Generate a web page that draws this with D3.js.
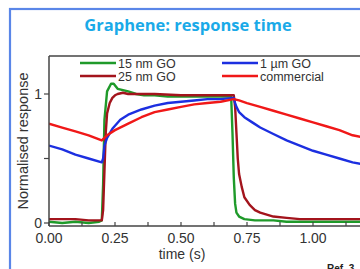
<html>
  <head>
    <style>
      body { margin: 0; background: #fff; }
      svg { display: block; font-family: Arial, "Liberation Sans", sans-serif; }
    </style>
  </head>
  <body>
    <svg></svg>
    <script src="https://d3js.org/d3.v7.min.js"></script>
    <script>
      let width = 360,
        height = 269;

      // data
      let xTicks = [0, 0.25, 0.5, 0.75, 1.0];
      let xMinor = [0.125, 0.375, 0.625, 0.875, 1.125];
      let yTicks = [0, 1];
      let yMinor = [0.5];

      let green_t = [0, 0.05, 0.1, 0.15, 0.19, 0.2, 0.205, 0.21, 0.22, 0.235, 0.245, 0.26, 0.28, 0.3, 0.33, 0.36, 0.4, 0.45, 0.5, 0.55, 0.6, 0.65, 0.69, 0.695, 0.7, 0.705, 0.71, 0.72, 0.74, 0.78, 0.85, 0.9, 0.95, 1.0, 1.05, 1.1, 1.15, 1.2];
      let green_v = [0.01, 0.0, 0.01, 0.0, 0.01, 0.02, 0.3, 0.8, 1.02, 1.08, 1.08, 1.04, 1.03, 1.02, 1.0, 0.99, 0.99, 0.98, 0.98, 0.98, 0.98, 0.98, 0.98, 0.7, 0.35, 0.15, 0.08, 0.05, 0.03, 0.02, 0.02, 0.01, 0.01, 0.01, 0.01, 0.01, 0.01, 0.01];

      let darkred_t = [0, 0.05, 0.1, 0.15, 0.2, 0.205, 0.21, 0.215, 0.22, 0.23, 0.24, 0.25, 0.26, 0.28, 0.3, 0.35, 0.4, 0.5, 0.6, 0.65, 0.7, 0.705, 0.71, 0.715, 0.72, 0.73, 0.74, 0.76, 0.78, 0.8, 0.85, 0.9, 0.95, 1.0, 1.1, 1.2];
      let darkred_v = [0.03, 0.03, 0.03, 0.02, 0.02, 0.1, 0.4, 0.7, 0.85, 0.93, 0.97, 0.99, 1.0, 1.01, 1.0, 1.0, 1.0, 0.99, 0.99, 0.99, 0.99, 0.9, 0.7, 0.5, 0.38, 0.28, 0.2, 0.14, 0.1, 0.08, 0.05, 0.04, 0.03, 0.03, 0.03, 0.03];

      let blue_t = [0, 0.05, 0.1, 0.15, 0.2, 0.205, 0.21, 0.22, 0.24, 0.27, 0.3, 0.35, 0.4, 0.45, 0.5, 0.55, 0.6, 0.65, 0.7, 0.705, 0.71, 0.72, 0.74, 0.77, 0.8, 0.85, 0.9, 0.95, 1.0, 1.05, 1.1, 1.15, 1.2];
      let blue_v = [0.6, 0.57, 0.53, 0.5, 0.47, 0.5, 0.6, 0.66, 0.73, 0.8, 0.84, 0.88, 0.91, 0.93, 0.94, 0.95, 0.96, 0.96, 0.97, 0.93, 0.9, 0.86, 0.82, 0.78, 0.74, 0.69, 0.64, 0.6, 0.56, 0.53, 0.5, 0.47, 0.45];

      let red_t = [0, 0.05, 0.1, 0.15, 0.2, 0.21, 0.22, 0.25, 0.3, 0.35, 0.4, 0.45, 0.5, 0.55, 0.6, 0.65, 0.7, 0.72, 0.75, 0.8, 0.85, 0.9, 0.95, 1.0, 1.05, 1.1, 1.15, 1.2];
      let red_v = [0.77, 0.74, 0.71, 0.68, 0.64, 0.66, 0.68, 0.72, 0.77, 0.82, 0.86, 0.88, 0.9, 0.92, 0.93, 0.94, 0.96, 0.95, 0.93, 0.9, 0.87, 0.84, 0.81, 0.78, 0.75, 0.72, 0.68, 0.66];

      let series = [
        { name: "15 nm GO", t: green_t, v: green_v, color: "#1f9a2a" },
        { name: "25 nm GO", t: darkred_t, v: darkred_v, color: "#a3141c" },
        { name: "1 \u00b5m GO", t: blue_t, v: blue_v, color: "#1c2fe0" },
        { name: "commercial", t: red_t, v: red_v, color: "#f01818" },
      ];

      let svg = d3.select("svg").attr("width", width).attr("height", height);

      // slide frame
      svg.append("rect")
        .attr("x", 10).attr("y", 9)
        .attr("width", 400).attr("height", 300)
        .attr("fill", "none")
        .attr("stroke", "#5a86e8")
        .attr("stroke-width", 2.2);

      svg.append("text")
        .attr("x", 188).attr("y", 31)
        .attr("text-anchor", "middle")
        .attr("fill", "#1aaae8")
        .attr("font-weight", "bold")
        .attr("font-family", "'Open Sans', Verdana, sans-serif")
        .attr("font-size", 16.5)
        .text("Graphene: response time");

      let x = d3.scaleLinear().domain([0, 1]).range([49, 313]);
      let y = d3.scaleLinear().domain([0, 1]).range([223, 94]);
      let x0 = 49, x1 = 420, yTop = 56, yBot = 226;

      svg.append("clipPath").attr("id", "plotclip")
        .append("rect").attr("x", x0).attr("y", yTop).attr("width", x1 - x0).attr("height", yBot - yTop);

      let line = d3.line().x((d) => x(d[0])).y((d) => y(d[1]));

      let g = svg.append("g").attr("clip-path", "url(#plotclip)");
      series.forEach((s) => {
        g.append("path")
          .datum(s.t.map((t, i) => [t, s.v[i]]))
          .attr("d", line)
          .attr("fill", "none")
          .attr("stroke", s.color)
          .attr("stroke-width", 2.4)
          .attr("stroke-linejoin", "round");
      });

      // frame
      let axColor = "#444";
      svg.append("line").attr("x1", x0).attr("x2", x1).attr("y1", yTop).attr("y2", yTop)
        .attr("stroke", axColor).attr("stroke-width", 1.5);
      svg.append("line").attr("x1", x0).attr("x2", x0).attr("y1", yTop).attr("y2", yBot)
        .attr("stroke", axColor).attr("stroke-width", 1.5);
      svg.append("line").attr("x1", x0).attr("x2", x1).attr("y1", yBot).attr("y2", yBot)
        .attr("stroke", axColor).attr("stroke-width", 1.5);

      // x ticks
      svg.append("g").selectAll("line").data(xTicks.concat(xMinor)).join("line")
        .attr("x1", (d) => x(d)).attr("x2", (d) => x(d))
        .attr("y1", yBot).attr("y2", yBot - 4)
        .attr("stroke", axColor).attr("stroke-width", 1.2);
      svg.append("g").selectAll("text").data(xTicks).join("text")
        .attr("x", (d) => x(d)).attr("y", 243)
        .attr("text-anchor", "middle")
        .attr("font-size", 14).attr("fill", "#333")
        .text((d) => d3.format(".2f")(d));

      // y ticks
      svg.append("g").selectAll("line").data(yTicks.concat(yMinor)).join("line")
        .attr("x1", x0 - 5).attr("x2", x0)
        .attr("y1", (d) => y(d)).attr("y2", (d) => y(d))
        .attr("stroke", axColor).attr("stroke-width", 1.2);
      svg.append("g").selectAll("text").data(yTicks).join("text")
        .attr("x", x0 - 7).attr("y", (d) => y(d) + 5)
        .attr("text-anchor", "end")
        .attr("font-size", 14).attr("fill", "#333")
        .text((d) => d);

      svg.append("text")
        .attr("transform", "translate(28,141) rotate(-90)")
        .attr("text-anchor", "middle")
        .attr("font-size", 14.5).attr("fill", "#333")
        .text("Normalised response");

      svg.append("text")
        .attr("x", 182).attr("y", 259)
        .attr("text-anchor", "middle")
        .attr("font-size", 14).attr("fill", "#333")
        .text("time (s)");

      // legend
      let legPos = [[80, 63], [80, 76], [222, 63], [222, 76]];
      series.forEach((s, i) => {
        let [lx, ly] = legPos[i];
        svg.append("line").attr("x1", lx).attr("x2", lx + 36).attr("y1", ly).attr("y2", ly)
          .attr("stroke", s.color).attr("stroke-width", 2.4);
        svg.append("text").attr("x", lx + 38).attr("y", ly + 4.5)
          .attr("font-size", 12.5).attr("fill", "#333").text(s.name);
      });

      svg.append("text")
        .attr("x", 327).attr("y", 272)
        .attr("font-size", 10).attr("font-weight", "bold").attr("fill", "#222")
        .text("Ref. 3");
    </script>
  </body>
</html>
